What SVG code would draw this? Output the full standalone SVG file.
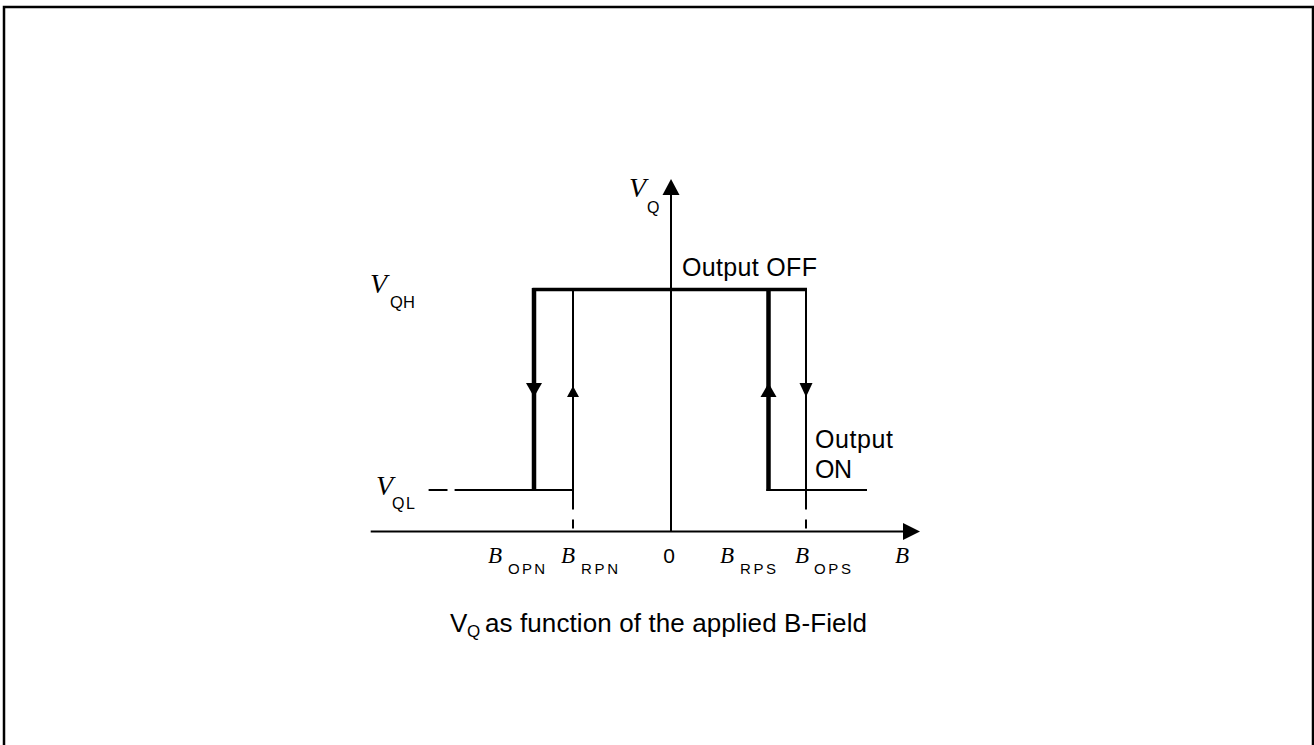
<svg xmlns="http://www.w3.org/2000/svg" width="1314" height="745" viewBox="0 0 1314 745">
<style>
.ln{stroke:#000;stroke-width:2;fill:none}
.tk{stroke:#000;stroke-width:4.5;fill:none}
.top{stroke:#000;stroke-width:3.5;fill:none}
.ah{fill:#000;stroke:none}
.it{font-family:"Liberation Serif",serif;font-style:italic;fill:#000}
.sub{font-family:"Liberation Sans",Arial,sans-serif;fill:#000}
.lbl{font-family:"Liberation Sans",Arial,sans-serif;fill:#000;font-size:25px}
.cap{font-family:"Liberation Sans",Arial,sans-serif;fill:#000;font-size:26px}
</style>
<rect x="0" y="0" width="1314" height="745" fill="#fff"/>
<path d="M4,746 V7 H1313 V746" fill="none" stroke="#000" stroke-width="2.5"/>
<g id="connectors">
  <line class="ln" x1="370.7" y1="531.5" x2="904" y2="531.5"/>
  <polygon class="ah" points="903,523 920,531.5 903,540"/>
  <line class="ln" x1="671" y1="531.5" x2="671" y2="194"/>
  <polygon class="ah" points="662.5,195 671,179 679.5,195"/>
  <line class="top" x1="532.5" y1="289.5" x2="807" y2="289.5"/>
  <line class="tk" x1="534" y1="288" x2="534" y2="491"/>
  <line class="ln" x1="573" y1="289" x2="573" y2="509.5"/>
  <line class="ln" x1="573" y1="519.5" x2="573" y2="528.5"/>
  <line class="tk" x1="768.5" y1="288" x2="768.5" y2="491"/>
  <line class="ln" x1="806" y1="289" x2="806" y2="509.5"/>
  <line class="ln" x1="806" y1="519.5" x2="806" y2="528.5"/>
  <line class="ln" x1="454.6" y1="490" x2="574" y2="490"/>
  <line class="ln" x1="428.6" y1="490" x2="447.5" y2="490"/>
  <line class="ln" x1="766.5" y1="490" x2="867" y2="490"/>
  <polygon class="ah" points="526,383 542,383 534,397"/>
  <polygon class="ah" points="567,397 579,397 573,386"/>
  <polygon class="ah" points="760.5,397 776.5,397 768.5,383"/>
  <polygon class="ah" points="799.5,383 812.5,383 806,397"/>
</g>
<g id="label-VQ">
  <text class="it" x="629" y="197" font-size="28">V</text>
  <text class="sub" x="647" y="213" font-size="16">Q</text>
</g>
<g id="label-VQH">
  <text class="it" x="370" y="293" font-size="28">V</text>
  <text class="sub" x="390" y="308" font-size="16.5" textLength="25" lengthAdjust="spacing">QH</text>
</g>
<g id="label-VQL">
  <text class="it" x="376" y="495" font-size="28">V</text>
  <text class="sub" x="392" y="509" font-size="16" textLength="23" lengthAdjust="spacing">QL</text>
</g>
<g id="label-output-off">
  <text class="lbl" x="682" y="276" textLength="135" lengthAdjust="spacing">Output OFF</text>
</g>
<g id="label-output-on">
  <text class="lbl" x="815" y="448" textLength="78" lengthAdjust="spacing">Output</text>
  <text class="lbl" x="815" y="478" textLength="37" lengthAdjust="spacing">ON</text>
</g>
<g id="label-BOPN">
  <text class="it" x="488" y="563" font-size="23">B</text>
  <text class="sub" x="508" y="574" font-size="15" textLength="37" lengthAdjust="spacing">OPN</text>
</g>
<g id="label-BRPN">
  <text class="it" x="561" y="563" font-size="23">B</text>
  <text class="sub" x="581" y="574" font-size="15" textLength="37" lengthAdjust="spacing">RPN</text>
</g>
<g id="label-zero">
  <text class="sub" x="669" y="563" font-size="21" text-anchor="middle">0</text>
</g>
<g id="label-BRPS">
  <text class="it" x="720" y="563" font-size="23">B</text>
  <text class="sub" x="740" y="574" font-size="15" textLength="36" lengthAdjust="spacing">RPS</text>
</g>
<g id="label-BOPS">
  <text class="it" x="795" y="563" font-size="23">B</text>
  <text class="sub" x="814" y="574" font-size="15" textLength="37" lengthAdjust="spacing">OPS</text>
</g>
<g id="label-B-axis">
  <text class="it" x="895" y="563" font-size="23">B</text>
</g>
<g id="caption">
  <text class="cap" x="450" y="632">V</text>
  <text class="sub" x="467" y="637" font-size="17">Q</text>
  <text class="cap" x="485" y="632" textLength="382" lengthAdjust="spacing">as function of the applied B-Field</text>
</g>
</svg>
